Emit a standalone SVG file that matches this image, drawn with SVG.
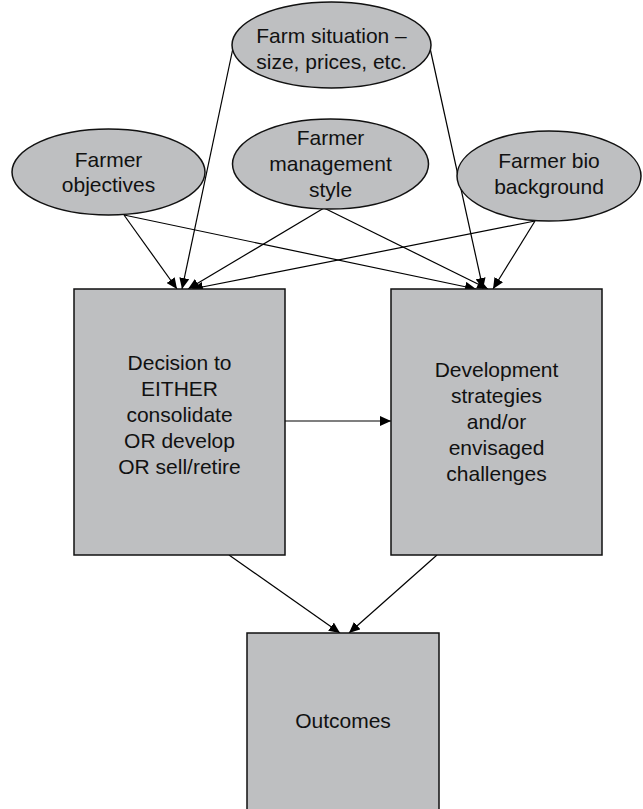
<svg xmlns="http://www.w3.org/2000/svg" width="643" height="809" viewBox="0 0 643 809">
  <style>
    .shape { fill: #bebfc1; stroke: #111; stroke-width: 1.5; }
    .lbl { font-family: "Liberation Sans", Arial, sans-serif; font-size: 21px; fill: #111; text-anchor: middle; }
    .edge { stroke: #000; stroke-width: 1.2; fill: none; marker-end: url(#arrow); }
  </style>
  <defs>
    <marker id="arrow" markerUnits="userSpaceOnUse" markerWidth="12" markerHeight="10" refX="11" refY="5" orient="auto">
      <path d="M0,0 L11,5 L0,10 Z" fill="#000"/>
    </marker>
  </defs>

  <rect width="643" height="809" fill="#fff"/>

  <g id="connectors">
    <!-- into the decision box -->
    <line class="edge" x1="124" y1="215" x2="177" y2="289"/>
    <line class="edge" x1="233" y1="48" x2="182" y2="289"/>
    <line class="edge" x1="324" y1="208" x2="188" y2="289"/>
    <line class="edge" x1="535" y1="221" x2="192" y2="289"/>
    <!-- into the development box -->
    <line class="edge" x1="124" y1="215" x2="476" y2="289"/>
    <line class="edge" x1="430" y1="48" x2="483" y2="289"/>
    <line class="edge" x1="324" y1="208" x2="488" y2="289"/>
    <line class="edge" x1="535" y1="221" x2="493" y2="289"/>
    <!-- decision to development -->
    <line class="edge" x1="285" y1="421" x2="391" y2="421"/>
    <!-- into outcomes -->
    <line class="edge" x1="229" y1="555" x2="340" y2="633"/>
    <line class="edge" x1="437" y1="555" x2="349" y2="633"/>
  </g>

  <g id="farm-situation">
    <ellipse class="shape" cx="331.5" cy="45" rx="99.5" ry="43"/>
    <text class="lbl" x="331.5" y="43">Farm situation –</text>
    <text class="lbl" x="331.5" y="68.5">size, prices, etc.</text>
  </g>

  <g id="farmer-objectives">
    <ellipse class="shape" cx="108.5" cy="172" rx="96.5" ry="43"/>
    <text class="lbl" x="108.5" y="166.5">Farmer</text>
    <text class="lbl" x="108.5" y="192">objectives</text>
  </g>

  <g id="farmer-management-style">
    <ellipse class="shape" cx="330.5" cy="164" rx="98" ry="45"/>
    <text class="lbl" x="330.5" y="145">Farmer</text>
    <text class="lbl" x="330.5" y="171">management</text>
    <text class="lbl" x="330.5" y="197">style</text>
  </g>

  <g id="farmer-bio-background">
    <ellipse class="shape" cx="549" cy="176" rx="92" ry="45"/>
    <text class="lbl" x="549" y="168">Farmer bio</text>
    <text class="lbl" x="549" y="194">background</text>
  </g>

  <g id="decision">
    <rect class="shape" x="74" y="289" width="211" height="266"/>
    <text class="lbl" x="179.5" y="370">Decision to</text>
    <text class="lbl" x="179.5" y="396">EITHER</text>
    <text class="lbl" x="179.5" y="422">consolidate</text>
    <text class="lbl" x="179.5" y="448">OR develop</text>
    <text class="lbl" x="179.5" y="473.5">OR sell/retire</text>
  </g>

  <g id="development">
    <rect class="shape" x="391" y="289" width="211" height="266"/>
    <text class="lbl" x="496.5" y="376.5">Development</text>
    <text class="lbl" x="496.5" y="402.5">strategies</text>
    <text class="lbl" x="496.5" y="428.5">and/or</text>
    <text class="lbl" x="496.5" y="454.5">envisaged</text>
    <text class="lbl" x="496.5" y="480.5">challenges</text>
  </g>

  <g id="outcomes">
    <rect class="shape" x="247" y="633" width="192" height="190"/>
    <text class="lbl" x="343" y="728">Outcomes</text>
  </g>
</svg>
